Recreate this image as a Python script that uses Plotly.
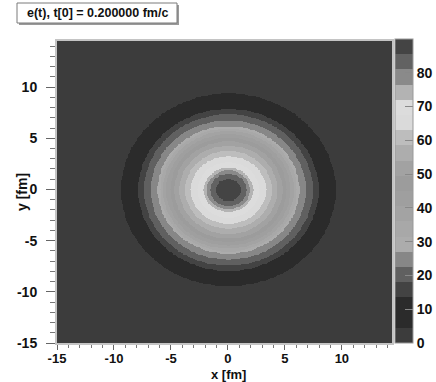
import numpy as np
import plotly.graph_objects as go

# ---- data ----
title_text = "e(t), t[0] = 0.200000 fm/c"
# radial profile of energy density (fm, value)
radius_fm = [0.0, 1.1, 1.6, 1.9, 2.15, 2.7, 3.3, 3.8, 4.3, 4.75, 5.1, 5.45,
             5.75, 6.0, 6.2, 6.8, 7.4, 7.9, 8.6, 9.4, 10.5, 30.0]
energy = [89.0, 85.5, 81.0, 76.5, 72.0, 67.5, 63.0, 58.5, 54.0, 49.5, 45.0, 40.5,
          36.0, 31.5, 27.0, 22.5, 18.0, 13.5, 9.0, 4.5, 1.5, 1.0]
center_x, center_y = 0.0, 0.0
x_range = [-15.0, 14.4]
y_range = [-15.0, 14.5]
# grayscale band colours, 20 bands of 4.5 between 0 and 90
band_colors = ['#3c3c3c', '#2b2b2b', '#2b2b2b', '#434343', '#606060', '#878787',
               '#acacac', '#a8a8a8', '#a3a3a3', '#9f9f9f', '#9c9c9c', '#a2a2a2',
               '#adadad', '#bdbdbd', '#dadada', '#dcdcdc', '#b3b3b3', '#8a8a8a',
               '#626262', '#444444']
z_min, z_max = 0.0, 90.0
cbar_ticks = [0, 10, 20, 30, 40, 50, 60, 70, 80]
x_ticks = [-15, -10, -5, 0, 5, 10]
y_ticks = [-15, -10, -5, 0, 5, 10]
x_tick_text = ["-15", "-10", "-5", "0", "5", "10"]
y_tick_text = ["-15", "-10", "-5", "0", "5", "10"]

# ---- grid built from the radial profile ----
gx = np.linspace(x_range[0], x_range[1], 197)
gy = np.linspace(y_range[0], y_range[1], 197)
XX, YY = np.meshgrid(gx, gy)
R = np.hypot(XX - center_x, YY - center_y)
Z = np.round(np.interp(R, radius_fm, energy), 2)

n = len(band_colors)
colorscale = []
for k, c in enumerate(band_colors):
    colorscale.append([k / n, c])
    colorscale.append([(k + 1) / n, c])

# pixel geometry helpers
W, H = 436, 382
L, Rm, T, B = 57, 44, 41, 39
pw, ph = W - L - Rm, H - T - B
def px(xp):
    return (xp - L) / pw
def py(yp):
    return (H - B - yp) / ph

FONT = "Liberation Sans, Arial, sans-serif"

fig = go.Figure()
fig.add_trace(go.Heatmap(
    x=gx, y=gy, z=Z, zmin=z_min, zmax=z_max, zsmooth='best',
    colorscale=colorscale, hoverinfo='skip',
    colorbar=dict(
        x=px(395), xanchor='left', xpad=0, y=0, yanchor='bottom', ypad=0,
        thickness=18, lenmode='pixels', len=304,
        tickvals=cbar_ticks, ticks='inside', ticklen=8, tickcolor='#888888',
        tickfont=dict(family=FONT, size=14, color='#111111', weight='bold'),
        outlinewidth=1, outlinecolor='#999999',
    ),
))

axis_common = dict(
    showgrid=False, zeroline=False, showline=True, mirror=True,
    linecolor='#c4c4c4', linewidth=2, ticks='outside', tickcolor='#666666',
)
fig.update_xaxes(range=x_range, tickvals=x_ticks, ticktext=x_tick_text, ticklen=5,
                 ticklabelstandoff=-3,
                 tickfont=dict(family=FONT, size=13, color='#111111', weight='bold'),
                 minor=dict(dtick=1, tick0=0, ticks='outside', ticklen=3, tickcolor='#777777'),
                 **axis_common)
fig.update_yaxes(range=y_range, tickvals=y_ticks, ticktext=y_tick_text, ticklen=9,
                 ticklabelstandoff=6,
                 tickfont=dict(family=FONT, size=14, color='#111111', weight='bold'),
                 minor=dict(dtick=1, tick0=0, ticks='outside', ticklen=5, tickcolor='#777777'),
                 **axis_common)

# title box (pave with shadow)
fig.add_shape(type='rect', xref='paper', yref='paper',
              x0=px(19), x1=px(179), y0=py(25), y1=py(5),
              line=dict(width=0), fillcolor='#9a9a9a', layer='above')
fig.add_shape(type='rect', xref='paper', yref='paper',
              x0=px(17), x1=px(177), y0=py(23), y1=py(3),
              line=dict(width=1, color='#7a7a7a'), fillcolor='#ffffff', layer='above')
fig.add_annotation(xref='paper', yref='paper', x=px(97), y=py(13),
                   text=title_text, showarrow=False, xanchor='center', yanchor='middle',
                   font=dict(family=FONT, size=12.5, color='#111111', weight='bold'))
# axis titles
fig.add_annotation(xref='paper', yref='paper', x=px(228), y=py(374),
                   text='x [fm]', showarrow=False, xanchor='center', yanchor='middle',
                   font=dict(family=FONT, size=13, color='#111111', weight='bold'))
fig.add_annotation(xref='paper', yref='paper', x=px(22), y=py(192),
                   text='y [fm]', showarrow=False, textangle=-90,
                   xanchor='center', yanchor='middle',
                   font=dict(family=FONT, size=14, color='#111111', weight='bold'))

fig.update_layout(
    width=W, height=H, margin=dict(l=L, r=Rm, t=T, b=B, autoexpand=False),
    paper_bgcolor='#ffffff', plot_bgcolor='#3c3c3c', showlegend=False,
)
fig.write_html("out.html")
